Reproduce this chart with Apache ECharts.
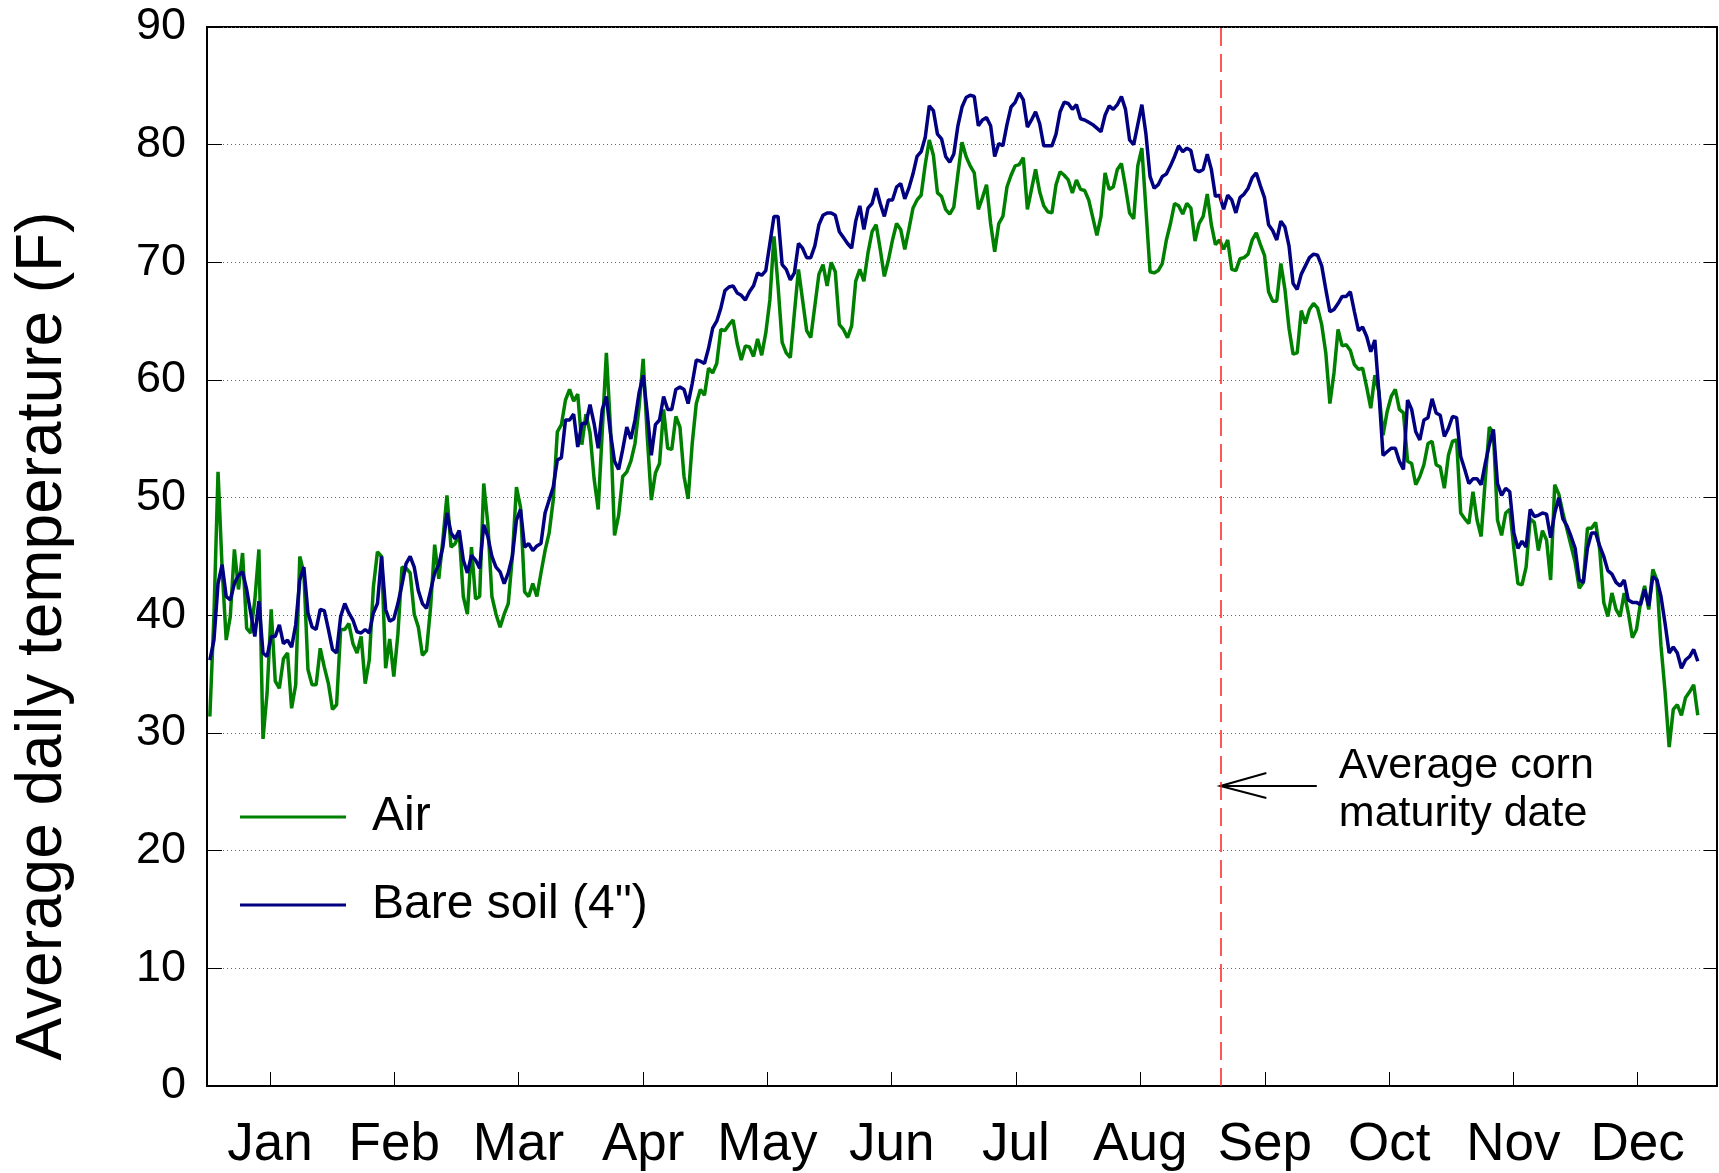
<!DOCTYPE html>
<html><head><meta charset="utf-8">
<script src="https://cdn.jsdelivr.net/npm/echarts@6/dist/echarts.min.js"></script>
<style>html,body{margin:0;padding:0;background:#fff}#c{width:1719px;height:1173px}</style>
</head><body><div id="c"></div>
<script>
// Daily average temperatures (F), day index 0 = Jan 1
const airTemp = [
31.4,40.0,52.2,44.0,37.9,39.9,45.6,42.2,45.3,38.9,
38.5,41.3,45.6,29.5,33.4,40.5,34.4,33.8,36.3,36.8,
32.1,34.1,45.0,43.6,35.4,34.1,34.1,37.2,35.6,34.2,
32.0,32.4,38.8,38.8,39.3,37.6,36.8,38.2,34.2,36.2,
42.4,45.4,45.0,35.5,38.0,34.8,38.4,44.1,44.0,43.6,
40.1,39.0,36.6,37.0,40.7,46.0,43.1,46.4,50.2,45.8,
46.1,47.0,41.6,40.1,45.8,41.4,41.6,51.2,47.8,41.6,
40.1,39.0,40.1,41.0,45.0,50.9,49.2,42.0,41.6,42.7,
41.6,43.6,45.5,47.0,49.8,55.6,56.2,58.3,59.2,58.2,
58.8,54.5,57.1,55.5,51.6,49.0,55.7,62.3,56.0,46.8,
48.5,51.8,52.2,53.1,54.6,57.7,61.8,55.2,49.8,52.1,
52.9,57.5,54.2,54.1,56.9,56.0,51.8,49.9,54.6,58.0,
59.2,58.7,61.0,60.6,61.4,64.3,64.2,64.7,65.1,63.1,
61.7,62.9,62.8,62.0,63.5,62.1,64.0,66.8,72.2,68.0,
63.2,62.3,61.9,65.7,69.4,66.8,64.2,63.6,66.3,69.0,
69.8,68.0,70.0,69.2,64.7,64.3,63.6,64.6,68.4,69.4,
68.4,70.8,72.6,73.2,71.1,68.8,70.2,71.9,73.3,72.8,
71.1,72.8,74.6,75.3,75.7,78.3,80.4,79.1,75.9,75.6,
74.5,74.1,74.7,77.5,80.2,79.0,78.2,77.6,74.5,75.5,
76.6,73.3,70.9,73.3,73.9,76.4,77.4,78.2,78.3,78.9,
74.5,76.2,77.9,76.0,74.8,74.3,74.2,76.6,77.7,77.4,
77.0,75.9,77.0,76.2,76.1,75.3,73.8,72.3,73.9,77.6,
76.2,76.4,77.9,78.4,76.4,74.2,73.7,78.2,79.7,74.5,
69.2,69.1,69.3,69.9,71.9,73.3,75.0,74.8,74.1,75.0,
74.6,71.8,73.3,73.9,75.8,73.2,71.5,71.9,71.1,71.9,
69.4,69.3,70.3,70.4,70.7,71.9,72.5,71.5,70.6,67.5,
66.7,66.7,69.9,67.7,64.4,62.2,62.3,65.9,64.8,66.0,
66.5,66.1,64.7,62.3,58.0,60.6,64.3,62.9,63.0,62.5,
61.3,60.9,61.0,59.4,57.6,60.4,59.0,55.3,57.3,58.6,
59.2,57.5,57.2,53.1,52.9,51.1,51.8,52.8,54.6,54.8,
52.8,52.6,50.8,53.6,54.8,54.9,48.7,48.2,47.8,50.5,
48.1,46.7,51.5,56.0,55.5,48.1,46.8,48.7,49.0,45.7,
42.7,42.6,44.1,48.2,47.9,45.5,47.2,46.4,43.0,51.1,
50.3,48.7,47.3,45.9,44.5,42.3,42.8,47.4,47.4,47.9,
45.6,41.1,39.9,41.9,40.5,39.9,41.9,40.2,38.1,38.8,
41.1,42.5,40.5,43.9,43.0,37.4,33.5,28.8,32.0,32.4,
31.5,33.0,33.5,34.1,31.5
];
const soilTemp = [
36.2,37.9,42.7,44.3,41.6,41.3,42.7,43.4,43.7,42.2,
40.2,38.2,41.2,36.8,36.5,38.2,38.2,39.2,37.6,37.9,
37.3,39.2,43.0,44.1,40.2,39.0,38.8,40.5,40.4,38.8,
37.1,36.8,39.9,41.0,40.2,39.6,38.6,38.5,38.8,38.5,
40.2,41.0,45.0,40.5,39.5,39.7,41.0,42.6,44.4,45.0,
44.1,42.1,41.0,40.6,42.1,43.6,44.3,45.8,48.7,47.0,
46.5,47.2,44.7,43.6,45.1,44.7,44.0,47.7,46.7,45.0,
44.1,43.7,42.7,43.6,45.0,48.1,49.0,45.8,46.1,45.5,
45.9,46.1,48.7,49.8,50.9,53.2,53.4,56.6,56.6,57.1,
54.3,56.3,56.3,57.9,56.3,54.2,57.5,58.6,55.5,53.1,
52.4,54.1,56.0,55.0,56.6,58.9,60.4,57.2,53.6,56.2,
56.6,58.6,57.5,57.5,59.2,59.4,59.2,58.0,59.7,61.7,
61.6,61.4,62.7,64.4,65.0,66.1,67.6,67.9,68.0,67.4,
67.2,66.8,67.5,68.0,69.1,68.9,69.3,71.6,73.9,73.9,
69.8,69.4,68.5,69.1,71.6,71.2,70.4,70.4,71.4,73.2,
74.0,74.2,74.2,74.0,72.6,72.1,71.6,71.2,73.5,74.8,
72.8,74.6,75.0,76.3,75.0,73.9,75.3,75.3,76.4,76.7,
75.4,76.3,77.5,79.0,79.4,80.6,83.3,82.9,80.9,80.5,
79.0,78.5,79.2,81.6,83.2,84.0,84.2,84.1,81.6,82.1,
82.3,81.6,79.0,80.1,79.9,81.7,83.2,83.6,84.4,83.8,
81.5,82.1,82.8,81.8,79.9,79.9,79.9,80.9,82.8,83.6,
83.5,83.0,83.4,82.2,82.1,81.9,81.7,81.4,81.1,82.5,
83.3,83.0,83.4,84.1,83.0,80.4,80.0,81.7,83.4,80.9,
77.3,76.3,76.6,77.3,77.5,78.2,79.0,79.9,79.4,79.7,
79.5,77.9,77.7,77.9,79.2,77.9,75.6,75.7,74.5,75.7,
75.3,74.2,75.5,75.8,76.3,77.2,77.6,76.5,75.5,73.2,
72.7,71.9,73.5,73.0,71.4,68.2,67.7,69.0,69.7,70.4,
70.7,70.6,69.7,67.7,65.8,66.0,66.5,67.1,67.1,67.5,
65.8,64.2,64.5,63.7,62.4,63.4,58.9,53.6,53.9,54.2,
54.2,53.1,52.4,58.3,57.5,55.6,54.9,56.6,56.8,58.4,
57.2,57.0,55.2,55.9,56.9,56.8,53.5,52.4,51.2,51.6,
51.6,51.1,52.9,54.5,55.8,51.2,50.2,50.8,50.5,47.0,
45.7,46.3,45.8,49.0,48.4,48.5,48.7,48.6,46.6,48.7,
50.0,48.2,47.6,46.7,45.7,43.0,42.8,45.7,47.0,47.0,
45.9,45.0,43.8,43.5,42.8,42.5,43.0,41.3,41.1,41.1,
40.9,42.2,40.8,43.3,43.0,41.6,39.3,36.8,37.3,36.8,
35.5,36.2,36.5,37.1,36.1
];
const seriesNames = ['Air', 'Bare soil (4")'];
const monthLabels = ['Jan','Feb','Mar','Apr','May','Jun','Jul','Aug','Sep','Oct','Nov','Dec'];
const monthTickDays = [14.7,45.1,75.5,106.0,136.4,166.8,197.2,227.6,258.1,288.5,318.9,349.3];
const maturityDay = 247.2;
const arrowLevel = 25.5;
const arrowTailDay = 270.8;
const annotationText = 'Average corn\nmaturity date';
const yAxisTitle = 'Average daily temperature (F)';

const FONT = "'Liberation Sans', Arial, Helvetica, sans-serif";
const chart = echarts.init(document.getElementById('c'), null, {renderer: 'canvas'});

function toPairs(arr){ return arr.map((v, i) => [i, v]); }

const option = {
  animation: false,
  backgroundColor: '#ffffff',
  grid: {left: 207, right: 2, top: 27, bottom: 87, show: true, borderColor: '#000', borderWidth: 2, backgroundColor: 'transparent'},
  legend: {
    orient: 'vertical', left: 240, top: 793, padding: 0,
    icon: 'rect', itemWidth: 106, itemHeight: 3, itemGap: 40,
    textStyle: {fontFamily: FONT, fontSize: 48, lineHeight: 48, color: '#000', padding: [0,0,0,21]},
    data: seriesNames
  },
  xAxis: {
    type: 'value', min: -0.7, max: 368.7,
    axisLine: {show: true, onZero: false, lineStyle: {color: '#000', width: 2}},
    axisTick: {show: true, inside: true, length: 14, customValues: monthTickDays, lineStyle: {color: '#000', width: 1}},
    axisLabel: {show: true, customValues: monthTickDays, margin: 33, fontFamily: FONT, fontSize: 53, color: '#000',
      formatter: function(v){ let k = 0, best = 1e9; monthTickDays.forEach((d, j) => { if (Math.abs(d - v) < best) { best = Math.abs(d - v); k = j; } }); return monthLabels[k]; }},
    splitLine: {show: false}
  },
  yAxis: [{
    type: 'value', min: 0, max: 90, interval: 10,
    axisLine: {show: true, onZero: false, lineStyle: {color: '#000', width: 2}},
    axisTick: {show: true, inside: true, length: 15, lineStyle: {color: '#000', width: 1}},
    axisLabel: {margin: 21, fontFamily: FONT, fontSize: 45, color: '#000'},
    splitLine: {show: true, lineStyle: {color: '#666', width: 1, type: [1, 3]}}
  }, {
    type: 'value', min: 0, max: 90, interval: 10, position: 'right',
    axisLine: {show: true, onZero: false, lineStyle: {color: '#000', width: 2}},
    axisTick: {show: true, inside: true, length: 13, lineStyle: {color: '#000', width: 1}},
    axisLabel: {show: false}, splitLine: {show: false}
  }],
  series: [{
    name: seriesNames[0], type: 'line', data: toPairs(airTemp), showSymbol: false, symbol: 'none',
    lineStyle: {color: '#008000', width: 3.5}, itemStyle: {color: '#008000'}, z: 3,
    markLine: {silent: true, symbol: 'none', label: {show: false},
      lineStyle: {color: '#ff2020', width: 1.5, type: [18, 8]},
      data: [{xAxis: maturityDay}]}
  }, {
    name: seriesNames[1], type: 'line', data: toPairs(soilTemp), showSymbol: false, symbol: 'none',
    lineStyle: {color: '#000080', width: 3.5}, itemStyle: {color: '#000080'}, z: 4
  }]
};
chart.setOption(option);

const tip = chart.convertToPixel({xAxisIndex: 0, yAxisIndex: 0}, [maturityDay, arrowLevel]);
const tail = chart.convertToPixel({xAxisIndex: 0, yAxisIndex: 0}, [arrowTailDay, arrowLevel]);
chart.setOption({
  graphic: [
    {type: 'text', x: 43, y: 636, rotation: Math.PI / 2,
      style: {text: yAxisTitle, fontFamily: FONT, fontSize: 64, fill: '#000', textAlign: 'center', textVerticalAlign: 'middle', align: 'center', verticalAlign: 'middle'}},
    {type: 'line', shape: {x1: tail[0], y1: tail[1], x2: tip[0], y2: tip[1]}, style: {stroke: '#000', lineWidth: 2}},
    {type: 'polyline', shape: {points: [[tip[0] + 46, tip[1] - 13], [tip[0], tip[1]], [tip[0] + 46, tip[1] + 12]]}, style: {stroke: '#000', lineWidth: 2, fill: null}},
    {type: 'text', x: tail[0] + 22, y: tip[1] - 44,
      style: {text: annotationText, fontFamily: FONT, fontSize: 43, lineHeight: 48, fill: '#000', textAlign: 'left', textVerticalAlign: 'top', align: 'left', verticalAlign: 'top'}}
  ]
});
</script></body></html>
